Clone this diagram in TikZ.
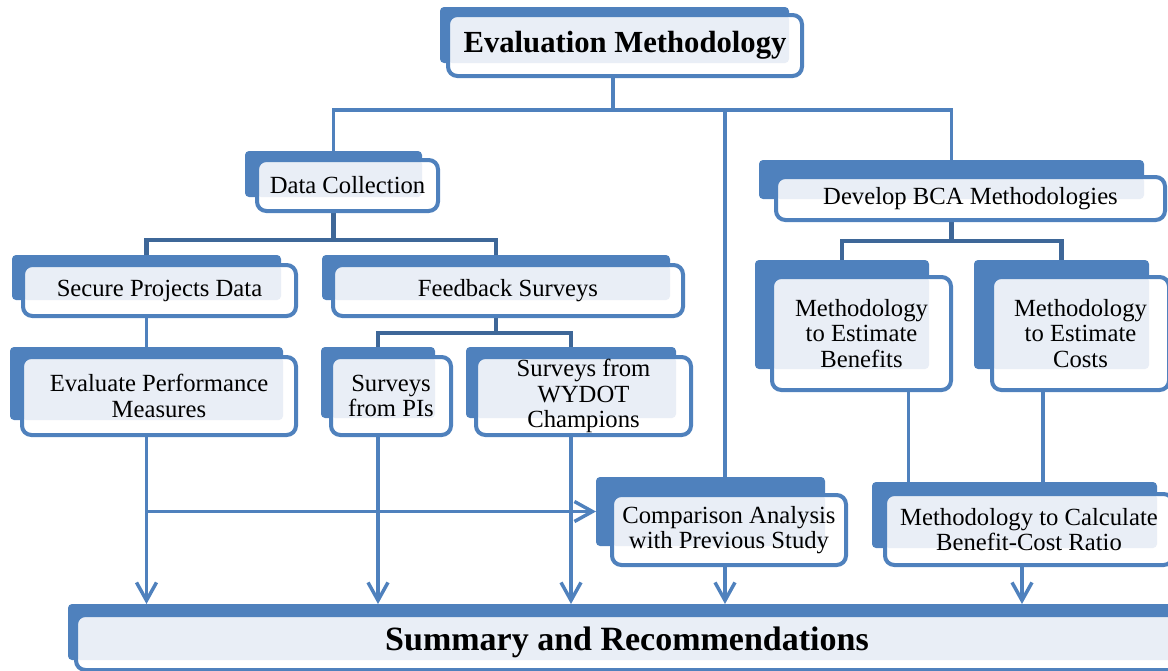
\documentclass[tikz,border=0pt]{standalone}
\usepackage{fontspec}
\setmainfont{Liberation Serif}
\usetikzlibrary{arrows.meta, fit, calc}
\definecolor{smblue}{RGB}{79,129,189}
\definecolor{smdark}{RGB}{62,103,152}
\definecolor{smlight}{RGB}{233,238,246}
\pgfdeclarelayer{lines}
\pgfdeclarelayer{backs}
\pgfsetlayers{lines,backs,main}
\tikzstyle{backbox} = [rectangle, rounded corners=3pt, inner sep=0pt, outer sep=0pt, fill=smblue]
\tikzset{frontbox/.style={rectangle, rounded corners=7pt, inner sep=0pt, outer sep=0pt, draw=smblue, line width=3pt, fill=white, align=center, font=\fontsize{18.5}{19}\selectfont, path picture={\fill[smlight, rounded corners=3pt] (path picture bounding box.north west) rectangle (#1.south east);}}}
\tikzset{boxsize/.style 2 args={minimum width=#1*0.75pt, minimum height=#2*0.75pt}}
\tikzstyle{conn} = [draw=smblue, line width=2.6pt]
\tikzstyle{darkconn} = [draw=smdark, line width=3.6pt]
\tikzstyle{arrow} = [conn, ->, >={Straight Barb[length=13.5pt, width=15pt]}]

\begin{document}
\begin{tikzpicture}[x=0.75pt, y=-0.75pt]
\useasboundingbox (0,0) rectangle (1168,671);
%%%%% BACK BLOCKS
\begin{pgfonlayer}{backs}
\node (em-bk) [backbox, fit={(440,7) (789,63)}] {};
\node (dc-bk) [backbox, fit={(245,151) (422,197)}] {};
\node (spd-bk) [backbox, fit={(12,255) (281,300)}] {};
\node (fs-bk) [backbox, fit={(322,255) (670,300)}] {};
\node (epm-bk) [backbox, fit={(10,347) (283,420)}] {};
\node (pis-bk) [backbox, fit={(321,347) (435,418)}] {};
\node (wydot-bk) [backbox, fit={(466,347) (676,418)}] {};
\node (dbca-bk) [backbox, fit={(759,160) (1144,199)}] {};
\node (ben-bk) [backbox, fit={(755,260) (929,369)}] {};
\node (cost-bk) [backbox, fit={(974,260) (1149,369)}] {};
\node (cmp-bk) [backbox, fit={(596,477) (825,546)}] {};
\node (bcr-bk) [backbox, fit={(872,482) (1157,548)}] {};
\node (sum-bk) [backbox, fit={(68,604) (1174,660)}] {};
\end{pgfonlayer}

%%%%% ADDING MAIN BLOCKS
\node (em) [frontbox=em-bk, boxsize={354}{61}, font=\fontsize{23}{27}\selectfont\bfseries] at (625,45.5) {Evaluation Methodology};
\node (dc) [frontbox=dc-bk, boxsize={181}{51}] at (347.5,185.5) {Data Collection};
\node (spd) [frontbox=spd-bk, boxsize={273}{51}] at (159.5,290.5) {Secure Projects Data};
\node (fs) [frontbox=fs-bk, boxsize={350}{51}] at (508,290.5) {Feedback Surveys};
\node (epm) [frontbox=epm-bk, boxsize={274}{78}] at (159,396) {Evaluate Performance\\Measures};
\node (pis) [frontbox=pis-bk, boxsize={120}{78}] at (391,396) {Surveys\\from PIs};
\node (wydot) [frontbox=wydot-bk, boxsize={215}{78}] at (583.5,396) {Surveys from\\WYDOT\\Champions};
\node (dbca) [frontbox=dbca-bk, boxsize={389}{43}] at (970.5,198.5) {Develop BCA Methodologies};
\node (ben) [frontbox=ben-bk, boxsize={179}{113}] at (861.5,333.5) {Methodology\\to Estimate\\Benefits};
\node (cost) [frontbox=cost-bk, boxsize={177}{113}] at (1080.5,333.5) {Methodology\\to Estimate\\Costs};
\node (cmp) [frontbox=cmp-bk, boxsize={234}{70}] at (729,530) {Comparison Analysis\\with Previous Study};
\node (bcr) [frontbox=bcr-bk, boxsize={288}{71}] at (1029,529.5) {Methodology to Calculate\\Benefit-Cost Ratio};
\node (sum) [frontbox=sum-bk, boxsize={1102}{55}, font=\fontsize{25.5}{30}\selectfont\bfseries] at (627,642.5) {Summary and Recommendations};

%%%%% ADDING CONNECTORS
\begin{pgfonlayer}{lines}
\coordinate (bus) at (613,110);
\coordinate (dcbus) at (333,240);
\coordinate (fsbus) at (496,333);
\coordinate (bcabus) at (951,241);
\coordinate (cmpline) at ($(cmp)+(-4,0)$);
\coordinate (benout) at ($(ben.south)+(47,0)$);
\coordinate (costout) at ($(cost.south)+(-37.5,0)$);
\coordinate (bcrout) at ($(bcr)+(-7,0)$);

\draw [conn] (bus |- em.south) -- (bus);
\draw [conn] (dc-bk) |- (bus) -| (dbca-bk);
\draw [conn] (cmpline |- bus) -- (cmpline);

\draw [darkconn] (dc-bk) -- (dc-bk |- dcbus);
\draw [darkconn] (spd-bk) |- (dcbus) -| (fs-bk);
\draw [conn] (spd-bk) -- (epm-bk);
\draw [darkconn] (fs-bk) -- (fs-bk |- fsbus);
\draw [darkconn] (pis-bk) |- (fsbus) -| (wydot-bk);
\draw [darkconn] (dbca-bk) -- (dbca-bk |- bcabus);
\draw [darkconn] (ben-bk) |- (bcabus) -| (cost-bk);
\draw [conn] (benout) -- (benout |- bcr-bk.north);
\draw [conn] (costout) -- (costout |- bcr-bk.north);

\draw [arrow] (epm-bk) -- (epm-bk |- sum-bk.north);
\draw [arrow] (epm-bk) |- (cmp-bk.west);
\draw [arrow] (pis-bk) -- (pis-bk |- sum-bk.north);
\draw [arrow] (wydot-bk) -- (wydot-bk |- sum-bk.north);
\draw [arrow] (cmpline) -- (cmpline |- sum-bk.north);
\draw [arrow] (bcrout) -- (bcrout |- sum-bk.north);
\end{pgfonlayer}
\end{tikzpicture}
\end{document}
